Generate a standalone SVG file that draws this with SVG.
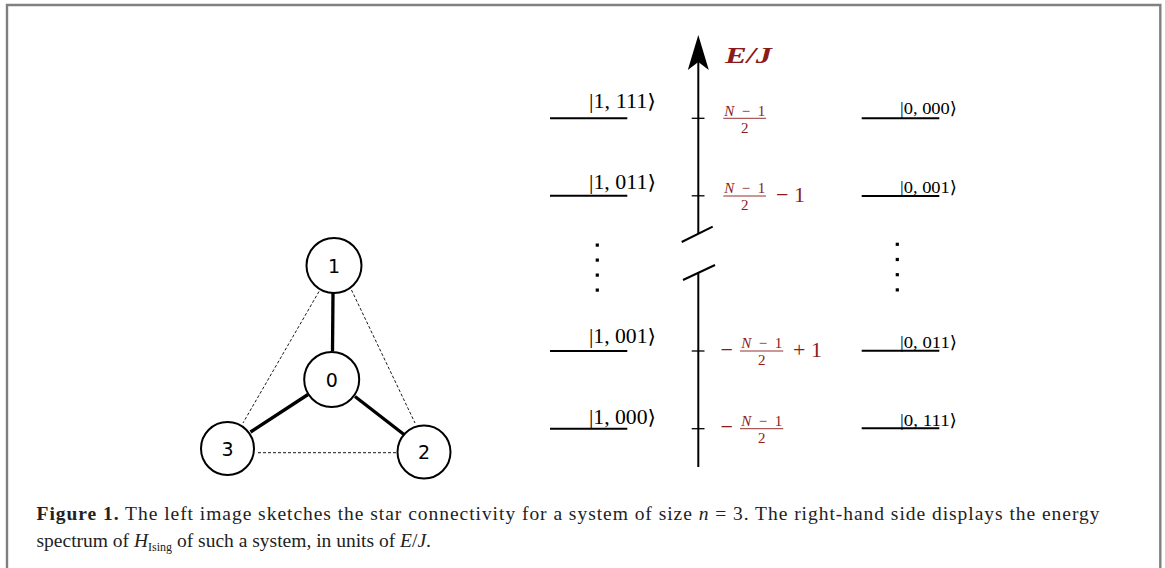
<svg xmlns="http://www.w3.org/2000/svg" width="1165" height="568" viewBox="0 0 1165 568">
<style>
.frame{fill:none;stroke:#808080;stroke-width:2.4}
.node circle{fill:#fff;stroke:#000;stroke-width:2}
.node text{font-family:"DejaVu Sans","Liberation Sans",sans-serif;font-size:19px;text-anchor:middle;fill:#000}
.strong{stroke:#000;stroke-width:3.3;fill:none}
.weak{stroke:#000;stroke-width:0.9;stroke-dasharray:3 2;fill:none}
.axis{stroke:#000;stroke-width:2;fill:none}
.tick{stroke:#000;stroke-width:1.3}
.level{stroke:#000;stroke-width:2}
.ket{font-family:"Liberation Serif","DejaVu Serif",serif;fill:#000}
.kl{font-size:20px}
.kr{font-size:17px}
.red{font-family:"Liberation Serif","DejaVu Serif",serif;fill:#8b1a1a}
.frac{font-size:15px;text-anchor:middle}
.big{font-size:22px}
.bar{stroke:#8b1a1a;stroke-width:0.9}
.cap{font-family:"Liberation Serif","DejaVu Serif",serif;font-size:19.5px;fill:#222}
</style>
<rect width="1165" height="568" fill="#fff"/>
<path class="frame" d="M7,568 V5 H1160.3 V568"/>

<g id="connectors">
  <line class="strong" x1="333" y1="293" x2="332.5" y2="351"/>
  <line class="strong" x1="308" y1="394.5" x2="250.5" y2="432"/>
  <line class="strong" x1="355" y1="396.5" x2="404" y2="434.5"/>
  <line class="weak" x1="319" y1="291.5" x2="243" y2="423"/>
  <line class="weak" x1="351.5" y1="290" x2="415" y2="423"/>
  <line class="weak" x1="258" y1="452.7" x2="397" y2="452.7"/>
</g>

<g id="node1" class="node"><circle cx="334" cy="265.5" r="27.5"/><text x="334" y="272.5">1</text></g>
<g id="node0" class="node"><circle cx="331.7" cy="379.5" r="27.5"/><text x="331.7" y="386.5">0</text></g>
<g id="node3" class="node"><circle cx="227.5" cy="448.5" r="26.5"/><text x="227.5" y="455.5">3</text></g>
<g id="node2" class="node"><circle cx="424" cy="452" r="26.5"/><text x="424" y="459">2</text></g>

<g id="axis">
  <line class="axis" x1="698.3" y1="60" x2="698.3" y2="234"/>
  <line class="axis" x1="681.7" y1="242" x2="712.7" y2="226.7"/>
  <line class="axis" x1="683" y1="280" x2="715" y2="265"/>
  <line class="axis" x1="698.3" y1="272.5" x2="698.3" y2="467"/>
  <path d="M698.3,35 L708.8,70 L698.3,62 L687.8,70 Z" fill="#000"/>
  <line class="tick" x1="691.7" y1="118.3" x2="704.5" y2="118.3"/>
  <line class="tick" x1="691.7" y1="195.8" x2="704.5" y2="195.8"/>
  <line class="tick" x1="691.7" y1="351" x2="704.5" y2="351"/>
  <line class="tick" x1="691.7" y1="428.7" x2="704.5" y2="428.7"/>
  <text class="red" x="725" y="63" font-size="24" font-weight="bold" font-style="italic" textLength="47" lengthAdjust="spacingAndGlyphs">E/J</text>
</g>

<g id="energy-labels">
  <text class="red frac" x="744.7" y="115.5" textLength="41" lengthAdjust="spacing"><tspan font-style="italic">N</tspan>−1</text>
  <line class="bar" x1="723.3" y1="118.3" x2="766" y2="118.3"/>
  <text class="red frac" x="744.7" y="132.5">2</text>

  <text class="red frac" x="744.7" y="192.5" textLength="41" lengthAdjust="spacing"><tspan font-style="italic">N</tspan>−1</text>
  <line class="bar" x1="723.3" y1="196" x2="766" y2="196"/>
  <text class="red frac" x="744.7" y="210">2</text>
  <text class="red big" x="776" y="201.5">− 1</text>

  <text class="red big" x="720.5" y="356.5">−</text>
  <text class="red frac" x="761.7" y="348" textLength="41" lengthAdjust="spacing"><tspan font-style="italic">N</tspan>−1</text>
  <line class="bar" x1="740" y1="351" x2="783.3" y2="351"/>
  <text class="red frac" x="761.7" y="365">2</text>
  <text class="red big" x="793" y="356.5">+ 1</text>

  <text class="red big" x="720.5" y="434.2">−</text>
  <text class="red frac" x="761.7" y="425.7" textLength="41" lengthAdjust="spacing"><tspan font-style="italic">N</tspan>−1</text>
  <line class="bar" x1="740" y1="428.7" x2="783.3" y2="428.7"/>
  <text class="red frac" x="761.7" y="442.5">2</text>
</g>

<g id="levels-left">
  <line class="level" x1="550" y1="118.3" x2="627.3" y2="118.3"/>
  <line class="level" x1="550" y1="195.8" x2="627.3" y2="195.8"/>
  <line class="level" x1="550" y1="351" x2="627.3" y2="351"/>
  <line class="level" x1="550" y1="428.7" x2="627.3" y2="428.7"/>
  <text class="ket kl" x="589" y="107.5" textLength="67" lengthAdjust="spacingAndGlyphs">|1, 111⟩</text>
  <text class="ket kl" x="589" y="189.3" textLength="67" lengthAdjust="spacingAndGlyphs">|1, 011⟩</text>
  <text class="ket kl" x="589" y="343.3" textLength="67" lengthAdjust="spacingAndGlyphs">|1, 001⟩</text>
  <text class="ket kl" x="589" y="424" textLength="67" lengthAdjust="spacingAndGlyphs">|1, 000⟩</text>
  <g fill="#000"><rect x="595.7" y="243.5" width="3.2" height="3.2"/><rect x="595.7" y="258.5" width="3.2" height="3.2"/><rect x="595.7" y="273.5" width="3.2" height="3.2"/><rect x="595.7" y="288.5" width="3.2" height="3.2"/></g>
</g>

<g id="levels-right">
  <line class="level" x1="861.7" y1="118.3" x2="939.3" y2="118.3"/>
  <line class="level" x1="861.7" y1="196" x2="939.3" y2="196"/>
  <line class="level" x1="861.7" y1="350.7" x2="939.3" y2="350.7"/>
  <line class="level" x1="861.7" y1="428.3" x2="939.3" y2="428.3"/>
  <text class="ket kr" x="900" y="114.3" textLength="57" lengthAdjust="spacingAndGlyphs">|0, 000⟩</text>
  <text class="ket kr" x="900" y="193" textLength="57" lengthAdjust="spacingAndGlyphs">|0, 001⟩</text>
  <text class="ket kr" x="900" y="348" textLength="57" lengthAdjust="spacingAndGlyphs">|0, 011⟩</text>
  <text class="ket kr" x="900" y="425.5" textLength="57" lengthAdjust="spacingAndGlyphs">|0, 111⟩</text>
  <g fill="#000"><rect x="895.7" y="242.7" width="3.2" height="3.2"/><rect x="895.7" y="257.9" width="3.2" height="3.2"/><rect x="895.7" y="273.1" width="3.2" height="3.2"/><rect x="895.7" y="288.3" width="3.2" height="3.2"/></g>
</g>

<g id="caption">
  <text class="cap" x="36.5" y="520" textLength="1063" lengthAdjust="spacing"><tspan font-weight="bold">Figure 1.</tspan>   The left image sketches the star connectivity for a system of size <tspan font-style="italic">n</tspan> = 3. The right-hand side displays the energy</text>
  <text class="cap" x="36.5" y="546.5">spectrum of <tspan font-style="italic">H</tspan><tspan font-size="12" dy="4">Ising</tspan><tspan dy="-4"> of such a system, in units of </tspan><tspan font-style="italic">E</tspan>/<tspan font-style="italic">J</tspan>.</text>
</g>
</svg>
